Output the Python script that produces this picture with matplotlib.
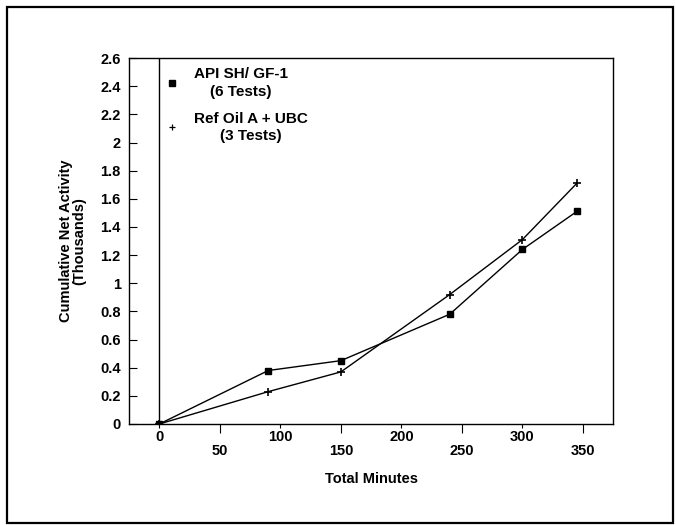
import matplotlib
matplotlib.use("Agg")
import matplotlib.pyplot as plt
from matplotlib.patches import Rectangle
from matplotlib.lines import Line2D

# Data
minutes = [0, 90, 150, 240, 300, 345]
api_sh_gf1 = [0.0, 0.38, 0.45, 0.78, 1.24, 1.51]
ref_oil_ubc = [0.0, 0.23, 0.37, 0.92, 1.31, 1.71]

series_labels = ["API SH/ GF-1\n(6 Tests)", "Ref Oil A + UBC\n(3 Tests)"]
x_major = [0, 100, 200, 300]
x_minor = [50, 150, 250, 350]
y_ticks = [0, 0.2, 0.4, 0.6, 0.8, 1, 1.2, 1.4, 1.6, 1.8, 2, 2.2, 2.4, 2.6]
y_ticklabels = ["0", "0.2", "0.4", "0.6", "0.8", "1", "1.2", "1.4", "1.6",
                "1.8", "2", "2.2", "2.4", "2.6"]

plt.rcParams['font.family'] = ['Liberation Sans', 'DejaVu Sans']
plt.rcParams['font.weight'] = 'bold'

fig = plt.figure(figsize=(6.76, 5.25), dpi=100)
ax = fig.add_axes([0.191, 0.1924, 0.716, 0.697])

# outer frame around the whole figure
fig.patches.append(Rectangle((0.010, 0.004), 0.986, 0.982, transform=fig.transFigure,
                             fill=False, lw=1.6, ec='black'))

ax.plot(minutes, api_sh_gf1, color='black', lw=1.0, marker='s', ms=5)
ax.plot(minutes, ref_oil_ubc, color='black', lw=1.0, marker='+', ms=6, mew=1.2)
ax.axvline(0, color='black', lw=1.0)

ax.set_xlim(-25, 375)
ax.set_ylim(0, 2.6)

# staggered x tick labels: hundreds on top row, fifties one row lower
ax.set_xticks(x_major)
ax.set_xticks(x_minor, minor=True)
ax.tick_params(axis='x', which='major', direction='out', length=3, width=0.8,
               pad=1.5, labelsize=10.5)
ax.tick_params(axis='x', which='minor', direction='out', length=6.5, width=0.8,
               pad=8, labelsize=10.5)
ax.set_xticklabels([str(v) for v in x_major], fontweight='bold')
ax.set_xticklabels([str(v) for v in x_minor], minor=True, fontweight='bold')
for t in ax.xaxis.get_minor_ticks():
    t.set_pad(8)

ax.set_yticks(y_ticks)
ax.set_yticklabels(y_ticklabels, fontsize=10.5, fontweight='bold')
ax.tick_params(axis='y', direction='in', length=6, width=0.8, pad=6)

for s in ax.spines.values():
    s.set_linewidth(1.0)

ax.set_xlabel("Total Minutes", fontsize=10.5, fontweight='bold', labelpad=10)
ax.set_ylabel("Cumulative Net Activity\n(Thousands)", fontsize=10.5,
              fontweight='bold', linespacing=0.95, labelpad=10)

handles = [Line2D([], [], color='black', ls='none', marker='s', ms=4.5),
           Line2D([], [], color='black', ls='none', marker='+', ms=5, mew=0.9)]
leg = ax.legend(handles, series_labels, loc='upper left', bbox_to_anchor=(0.054, 1.0),
                frameon=False, fontsize=11, handlelength=1.0, handletextpad=0.95,
                labelspacing=0.85, borderaxespad=0.2)
for t in leg.get_texts():
    t.set_multialignment('center')
    t.set_fontweight('bold')
    t.set_linespacing(1.3)

fig.savefig("out.png", dpi=100)
